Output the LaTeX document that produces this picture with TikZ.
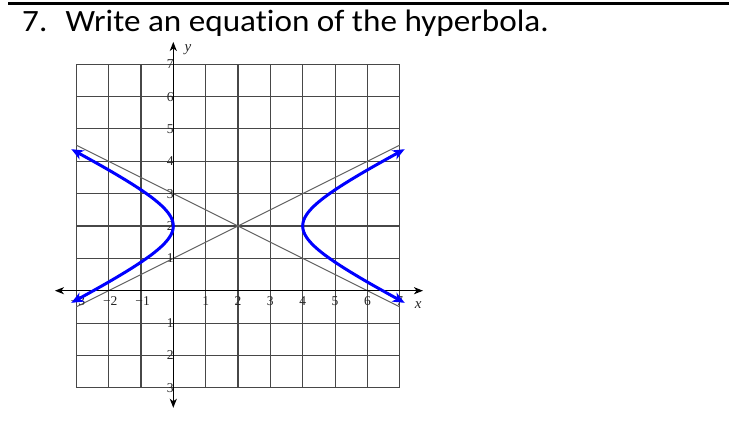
\documentclass[tikz,border=0pt]{standalone}
\usepackage{fontspec}
\setmainfont{Liberation Serif}
\newfontfamily\titlefont[Ligatures=NoCommon]{Carlito}
\usetikzlibrary{arrows.meta}
\tikzset{
  gridline/.style={draw=black!72, line width=1.1pt},
  asym/.style={draw=black!62, line width=0.9pt},
  axisline/.style={draw=black, line width=1.4pt, -{Stealth[length=9pt,width=7pt,inset=2.5pt]}},
  hyp/.style={draw=blue, line width=3pt, {Stealth[length=12pt,width=10pt,inset=3.5pt]}-{Stealth[length=12pt,width=10pt,inset=3.5pt]}},
  ticklab/.style={font=\fontsize{13.5}{13.5}\selectfont, text=black!85, inner sep=0pt},
  axlab/.style={font=\fontsize{15}{15}\selectfont\itshape, text=black!85, inner sep=0pt}
}
\begin{document}
\begin{tikzpicture}[x=1pt,y=1pt]
\useasboundingbox (0,0) rectangle (729,424);
% top rule
\coordinate (r1) at (8,420.7);
\coordinate (r2) at (729,420.7);
\draw[line width=3pt] (r1) -- (r2);
% title
\node[anchor=base west, inner sep=0pt, xscale=1.07, font=\titlefont\fontsize{31}{31}\selectfont] (title) at (22,392) {7.\hspace{17pt}Write an equation of the hyperbola.};
\begin{scope}[shift={(173.3,133.3)}, x=32.35pt, y=32.35pt]
  % grid
  \foreach \i in {-3,...,7} {
    \draw[gridline] (\i,-3) -- (\i,7);
    \draw[gridline] (-3,\i) -- (7,\i);
  }
  % asymptotes
  \coordinate (a1) at (-3,4.5);
  \coordinate (a2) at (7,-0.5);
  \coordinate (b1) at (-3,-0.5);
  \coordinate (b2) at (7,4.5);
  \draw[asym] (a1) -- (a2);
  \draw[asym] (b1) -- (b2);
  % tick labels
  \foreach \v in {1,...,7} {
    \node[ticklab, anchor=east] (yl\v) at (0.02,\v) {\v};
  }
  \foreach \v in {1,2,3} {
    \node[ticklab, anchor=east] (yn\v) at (0.02,-\v) {\v};
  }
  \foreach \v in {1,...,7} {
    \node[ticklab] (xl\v) at (\v,-0.32) {\v};
  }
  \foreach \v in {1,2,3} {
    \node[ticklab] (xn\v) at (-\v+0.05,-0.32) {−\v};
  }
  % axes
  \coordinate (xs) at (-3.66,0);
  \coordinate (xe) at (7.72,0);
  \coordinate (ys) at (0,-3.62);
  \coordinate (ye) at (0,7.69);
  \draw[axisline] (0,0) -- (xe);
  \draw[axisline] (0,0) -- (xs);
  \draw[axisline] (0,0) -- (ye);
  \draw[axisline] (0,0) -- (ys);
  \node[axlab] (xlab) at (7.57,-0.45) {x};
  \node[axlab] (ylab) at (0.45,7.45) {y};
  % hyperbola
  \draw[hyp] plot[domain=-1.6:1.6, samples=60, smooth, variable=\t] ({2-2*cosh(\t)},{2+sinh(\t)});
  \draw[hyp] plot[domain=-1.6:1.6, samples=60, smooth, variable=\t] ({2+2*cosh(\t)},{2+sinh(\t)});
\end{scope}
\end{tikzpicture}
\end{document}
